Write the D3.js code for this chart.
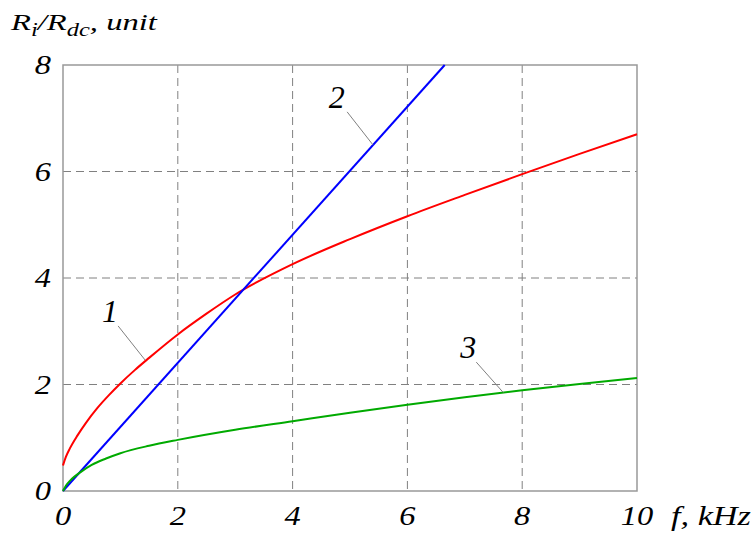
<!DOCTYPE html>
<html><head><meta charset="utf-8">
<script src="https://cdn.jsdelivr.net/npm/d3@7"></script>
<style>
body{margin:0;background:#fff}
svg text{font-family:"Liberation Serif","Times New Roman",serif;font-style:italic;fill:#000}
</style>
</head><body>
<svg id="c" width="756" height="537"></svg>
<script>
const xTicks = [0, 2, 4, 6, 8, 10];
const yTicks = [0, 2, 4, 6, 8];
const curve1F = [0, 0.05, 0.12, 0.25, 0.4, 0.6, 0.8, 1, 1.25, 1.5, 2, 2.5, 3, 4, 5, 6, 7, 8, 9, 10];
const curve1V = [0.48, 0.64, 0.8, 1.04, 1.28, 1.56, 1.8, 2.02, 2.27, 2.5, 2.94, 3.33, 3.69, 4.26, 4.73, 5.16, 5.56, 5.95, 6.33, 6.7];
const curve2F = [0, 6.65];
const curve2V = [0, 8];
const curve3F = [0, 0.05, 0.12, 0.2, 0.3, 0.5, 0.75, 1, 1.5, 2, 3, 4, 5, 6, 7, 8, 9, 10];
const curve3V = [0, 0.1, 0.19, 0.27, 0.35, 0.49, 0.61, 0.71, 0.85, 0.96, 1.15, 1.31, 1.47, 1.62, 1.76, 1.89, 2.01, 2.12];
// label text, text position (f, v), leader start (sf, sv), leader end on curve (ef, ev)
const labels = [
  {t: "1", f: 0.82, v: 3.17, sf: 0.96, sv: 3.1, ef: 1.43, ev: 2.46},
  {t: "2", f: 4.77, v: 7.19, sf: 4.95, sv: 7.12, ef: 5.4, ev: 6.5},
  {t: "3", f: 7.06, v: 2.5, sf: 7.2, sv: 2.42, ef: 7.67, ev: 1.85}
];

const svg = d3.select("#c");
const L = 63, R = 637, T = 65, B = 491;
const x = d3.scaleLinear().domain([0, 10]).range([L, R]);
const y = d3.scaleLinear().domain([0, 8]).range([B, T]);

// grid
svg.append("g").selectAll("line").data(xTicks.filter(d => d > 0 && d < 10)).join("line")
  .attr("x1", d => x(d)).attr("x2", d => x(d)).attr("y1", T).attr("y2", B)
  .attr("stroke", "#808080").attr("stroke-width", 1).attr("stroke-dasharray", "8,5");
svg.append("g").selectAll("line").data(yTicks.filter(d => d > 0 && d < 8)).join("line")
  .attr("y1", d => y(d)).attr("y2", d => y(d)).attr("x1", L).attr("x2", R)
  .attr("stroke", "#808080").attr("stroke-width", 1).attr("stroke-dasharray", "8,5");
// frame
svg.append("rect").attr("x", L).attr("y", T).attr("width", R - L).attr("height", B - T)
  .attr("fill", "none").attr("stroke", "#999").attr("stroke-width", 1.5);

// curves
const line = d3.line().x(d => x(d[0])).y(d => y(d[1])).curve(d3.curveMonotoneX);
const series = [
  {f: curve1F, v: curve1V, c: "#ff0000"},
  {f: curve2F, v: curve2V, c: "#0000ff"},
  {f: curve3F, v: curve3V, c: "#00aa00"}
];
series.forEach(s => {
  svg.append("path").datum(s.f.map((f, i) => [f, s.v[i]]))
    .attr("d", line).attr("fill", "none").attr("stroke", s.c).attr("stroke-width", 2);
});

// labels with leaders
labels.forEach(l => {
  svg.append("line").attr("x1", x(l.sf)).attr("y1", y(l.sv)).attr("x2", x(l.ef)).attr("y2", y(l.ev))
    .attr("stroke", "#808080").attr("stroke-width", 1);
  svg.append("text").attr("x", x(l.f)).attr("y", y(l.v)).attr("text-anchor", "middle")
    .attr("font-size", 32).text(l.t);
});

// horizontally stretched text (the reference type is wider than Times)
function wideText(px, py, anchor, size, sx) {
  return svg.append("g").attr("transform", `translate(${px},${py}) scale(${sx},1)`)
    .append("text").attr("text-anchor", anchor).attr("font-size", size);
}

// tick labels
xTicks.forEach(d => wideText(x(d), 525, "middle", 27.5, 1.18).text(d));
yTicks.forEach(d => wideText(51, y(d) + 9, "end", 27.5, 1.18).text(d));

// axis titles
const xt = wideText(671, 525, "start", 27.5, 1);
xt.text("f, kHz");
const xw = xt.node().getComputedTextLength();
xt.node().parentNode.setAttribute("transform", `translate(671,525) scale(${80 / xw},1)`);

const yt = wideText(11, 30, "start", 24, 1);
yt.append("tspan").text("R");
yt.append("tspan").attr("dy", 6).attr("font-size", 18).text("i");
yt.append("tspan").attr("dy", -6).text("/R");
yt.append("tspan").attr("dy", 6).attr("font-size", 18).text("dc");
yt.append("tspan").attr("dy", -6).text(", unit");
const yw = yt.node().getComputedTextLength();
yt.node().parentNode.setAttribute("transform", `translate(11,30) scale(${146 / yw},1)`);
</script>
</body></html>
